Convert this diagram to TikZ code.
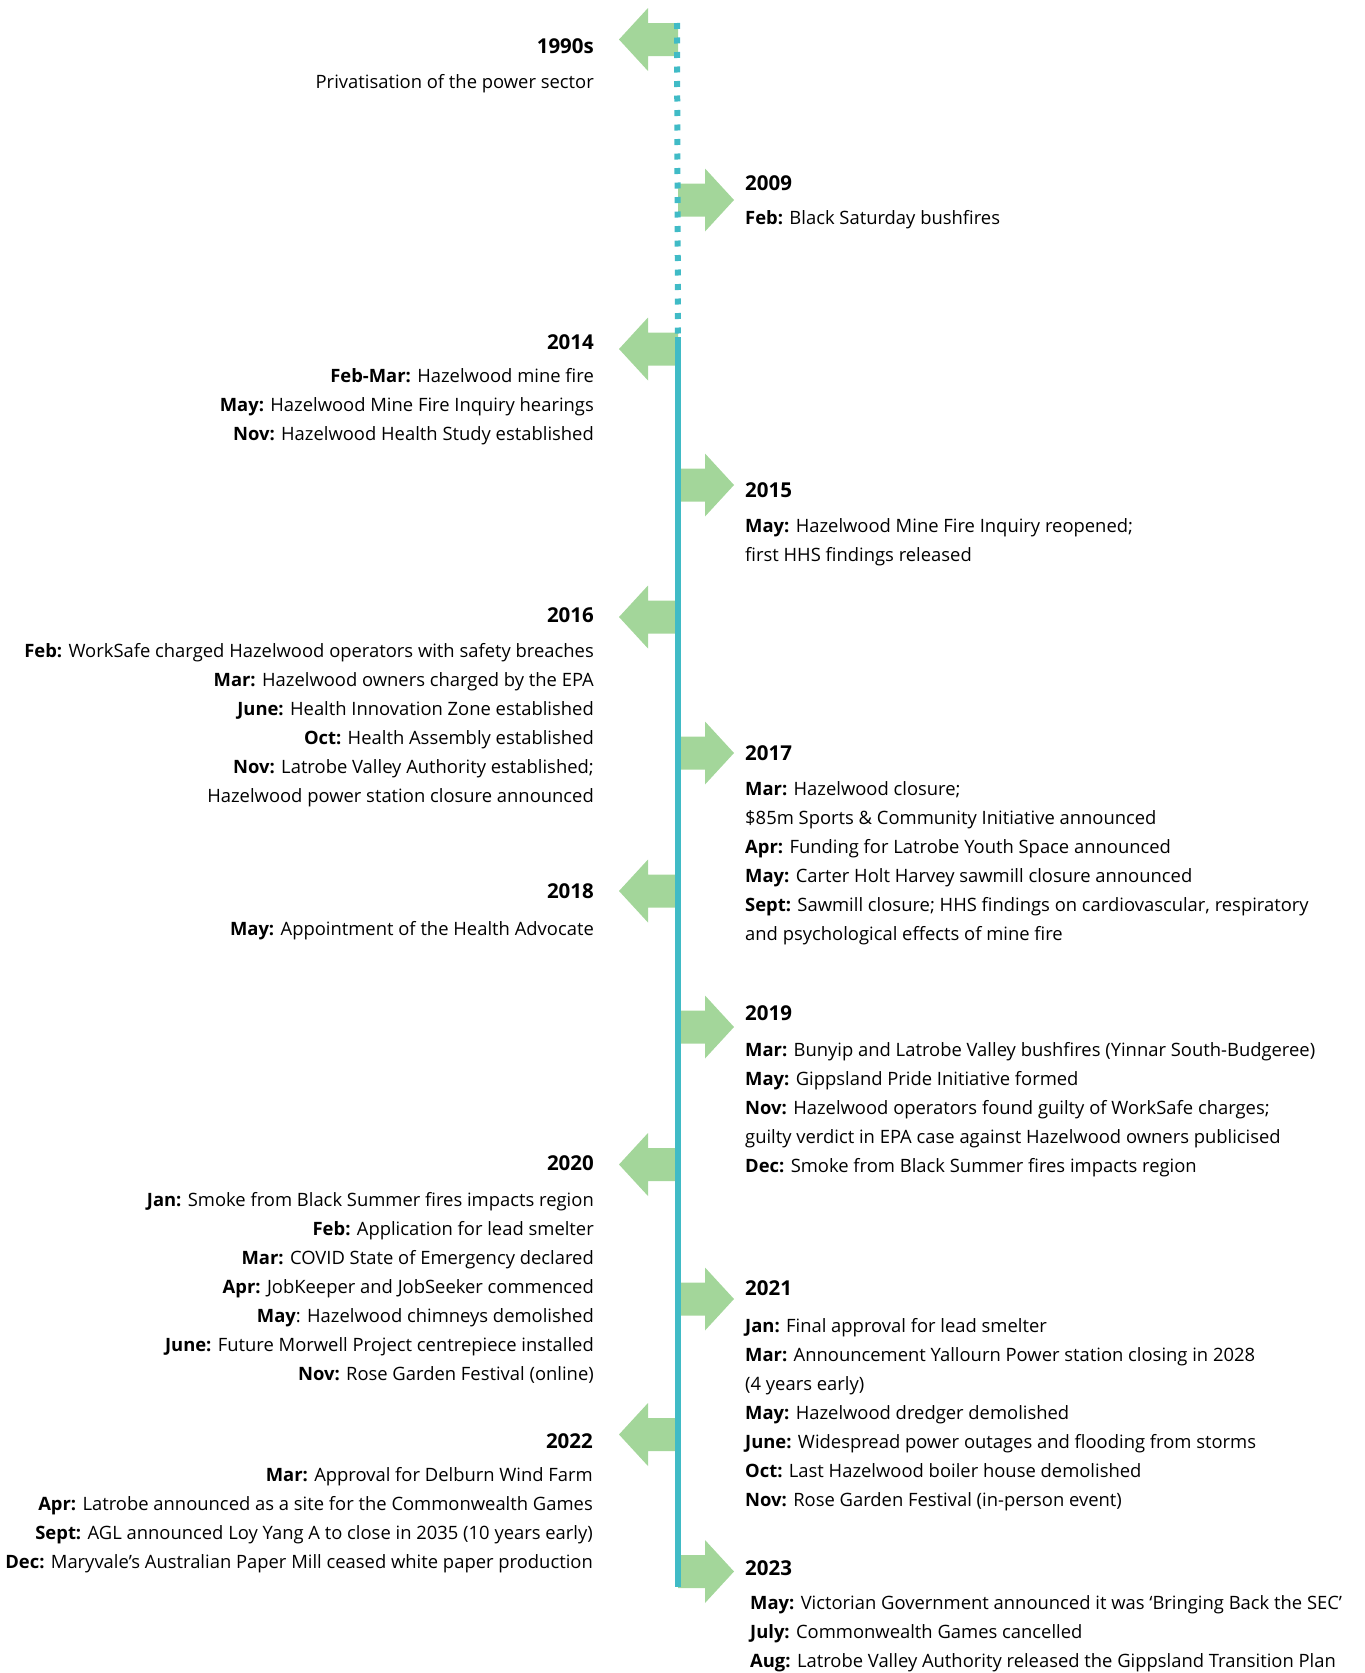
\documentclass[tikz,border=0pt]{standalone}
\usepackage{fontspec}
\setmainfont{Open Sans}
\definecolor{arrowgreen}{RGB}{163,214,154}
\definecolor{lineteal}{RGB}{64,187,198}
\tikzset{
  yearlab/.style={inner sep=0pt, font=\fontsize{20.5}{25}\selectfont\bfseries},
  lefttxt/.style={inner sep=0pt, align=right, anchor=base east, font=\fontsize{18.4}{29.1}\selectfont},
  righttxt/.style={inner sep=0pt, align=left, anchor=base west, font=\fontsize{18.4}{29.1}\selectfont},
  arrowfill/.style={fill=arrowgreen, draw=none},
}
\newcommand{\larrow}[1]{\fill[arrowfill] (#1) ++(0,-16.5) -- ++(-30,0) -- ++(0,-15) -- ++(-29,31.5) -- ++(29,31.5) -- ++(0,-15) -- ++(30,0) -- cycle;}
\newcommand{\rarrow}[1]{\fill[arrowfill] (#1) ++(0,-16.5) -- ++(27,0) -- ++(0,-15) -- ++(29,31.5) -- ++(-29,31.5) -- ++(0,-15) -- ++(-27,0) -- cycle;}
\begin{document}
\begin{tikzpicture}[x=1pt,y=-1pt]
\useasboundingbox (0,0) rectangle (1365,1673);
% timeline anchor points
\coordinate (top) at (677,23);
\coordinate (mid) at (678,337);
\coordinate (bot) at (678,1587);
\coordinate (a1990) at (678,39.5);
\coordinate (a2009) at (678,200);
\coordinate (a2014) at (678,349);
\coordinate (a2015) at (678,485);
\coordinate (a2016) at (678,617);
\coordinate (a2017) at (678,753);
\coordinate (a2018) at (678,891);
\coordinate (a2019) at (678,1027);
\coordinate (a2020) at (678,1164.5);
\coordinate (a2021) at (678,1299);
\coordinate (a2022) at (678,1434.5);
\coordinate (a2023) at (678,1571.5);
% arrows
\larrow{a1990}
\rarrow{a2009}
\larrow{a2014}
\rarrow{a2015}
\larrow{a2016}
\rarrow{a2017}
\larrow{a2018}
\rarrow{a2019}
\larrow{a2020}
\rarrow{a2021}
\larrow{a2022}
\rarrow{a2023}
% timeline
\draw[lineteal, line width=6pt, dash pattern=on 6pt off 8.5pt] (top) -- (mid);
\draw[lineteal, line width=6pt] (mid) -- (bot);
% left blocks (base anchor = last line baseline)
\node[yearlab, anchor=east] (y1990) at (594,45.9) {1990s};
\node[lefttxt] (t1990) at (594,88) {Privatisation of the power sector};
\node[yearlab, anchor=east] (y2014) at (594,342.6) {2014};
\node[lefttxt] (t2014) at (594,440.2) {\textbf{Feb-Mar:} Hazelwood mine fire\\
\textbf{May:} Hazelwood Mine Fire Inquiry hearings\\
\textbf{Nov:} Hazelwood Health Study established};
\node[yearlab, anchor=east] (y2016) at (594,614.8) {2016};
\node[lefttxt] (t2016) at (594,802.5) {\textbf{Feb:} WorkSafe charged Hazelwood operators with safety breaches\\
\textbf{Mar:} Hazelwood owners charged by the EPA\\
\textbf{June:} Health Innovation Zone established\\
\textbf{Oct:} Health Assembly established\\
\textbf{Nov:} Latrobe Valley Authority established;\\
Hazelwood power station closure announced};
\node[yearlab, anchor=east] (y2018) at (594,891.2) {2018};
\node[lefttxt] (t2018) at (594,935) {\textbf{May:} Appointment of the Health Advocate};
\node[yearlab, anchor=east] (y2020) at (594,1163.4) {2020};
\node[lefttxt] (t2020) at (594,1380.6) {\textbf{Jan:} Smoke from Black Summer fires impacts region\\
\textbf{Feb:} Application for lead smelter\\
\textbf{Mar:} COVID State of Emergency declared\\
\textbf{Apr:} JobKeeper and JobSeeker commenced\\
\textbf{May}: Hazelwood chimneys demolished\\
\textbf{June:} Future Morwell Project centrepiece installed\\
\textbf{Nov:} Rose Garden Festival (online)};
\node[yearlab, anchor=east] (y2022) at (593,1440.9) {2022};
\node[lefttxt] (t2022) at (593,1568.3) {\textbf{Mar:} Approval for Delburn Wind Farm\\
\textbf{Apr:} Latrobe announced as a site for the Commonwealth Games\\
\textbf{Sept:} AGL announced Loy Yang A to close in 2035 (10 years early)\\
\textbf{Dec:} Maryvale’s Australian Paper Mill ceased white paper production};
% right blocks
\node[yearlab, anchor=west] (y2009) at (745,183.6) {2009};
\node[righttxt] (t2009) at (745,224) {\textbf{Feb:} Black Saturday bushfires};
\node[yearlab, anchor=west] (y2015) at (745,489.9) {2015};
\node[righttxt] (t2015) at (745,561.1) {\textbf{May:} Hazelwood Mine Fire Inquiry reopened;\\
first HHS findings released};
\node[yearlab, anchor=west] (y2017) at (745,753.5) {2017};
\node[righttxt] (t2017) at (745,940.5) {\textbf{Mar:} Hazelwood closure;\\
\$85m Sports \& Community Initiative announced\\
\textbf{Apr:} Funding for Latrobe Youth Space announced\\
\textbf{May:} Carter Holt Harvey sawmill closure announced\\
\textbf{Sept:} Sawmill closure; HHS findings on cardiovascular, respiratory\\
and psychological effects of mine fire};
\node[yearlab, anchor=west] (y2019) at (745,1012.9) {2019};
\node[righttxt] (t2019) at (745,1172.4) {\textbf{Mar:} Bunyip and Latrobe Valley bushfires (Yinnar South-Budgeree)\\
\textbf{May:} Gippsland Pride Initiative formed\\
\textbf{Nov:} Hazelwood operators found guilty of WorkSafe charges;\\
guilty verdict in EPA case against Hazelwood owners publicised\\
\textbf{Dec:} Smoke from Black Summer fires impacts region};
\node[yearlab, anchor=west] (y2021) at (745,1288.2) {2021};
\node[righttxt] (t2021) at (745,1506.6) {\textbf{Jan:} Final approval for lead smelter\\
\textbf{Mar:} Announcement Yallourn Power station closing in 2028\\
(4 years early)\\
\textbf{May:} Hazelwood dredger demolished\\
\textbf{June:} Widespread power outages and flooding from storms\\
\textbf{Oct:} Last Hazelwood boiler house demolished\\
\textbf{Nov:} Rose Garden Festival (in-person event)};
\node[yearlab, anchor=west] (y2023) at (745,1567.9) {2023};
\node[righttxt] (t2023) at (750,1667.2) {\textbf{May:} Victorian Government announced it was ‘Bringing Back the SEC’\\
\textbf{July:} Commonwealth Games cancelled\\
\textbf{Aug:} Latrobe Valley Authority released the Gippsland Transition Plan};
\end{tikzpicture}
\end{document}
